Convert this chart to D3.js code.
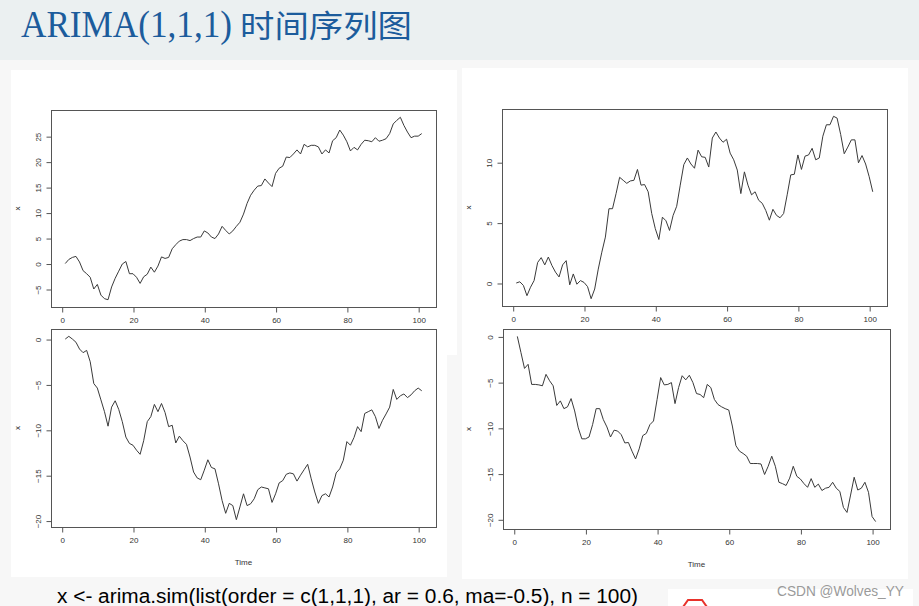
<!DOCTYPE html>
<html>
<head>
<meta charset="utf-8">
<script src="https://cdn.jsdelivr.net/npm/d3@7/dist/d3.min.js"></script>
<style>
  html, body { margin: 0; padding: 0; background: #f7f7f7; }
  svg { display: block; }
  .tick-label, .axis-title { font-family: "Liberation Sans", Arial, sans-serif; fill: #333; }
</style>
</head>
<body>
<svg id="slide" width="919" height="606"></svg>
<script>
// 四组 ARIMA(1,1,1) 模拟序列, t = 1..101
const seriesA = [0, 0.8, 1.2, 1.4, 0.3, -1.4, -2.0, -2.7, -5.0, -4.1,
  -6.2, -6.9, -7.1, -4.6, -2.9, -1.5, -0.1, 0.4, -2.0, -2.0,
  -2.7, -3.9, -2.6, -2.1, -0.7, -1.7, -0.5, 1.3, 1.0, 1.2,
  2.9, 3.7, 4.4, 4.7, 4.7, 4.5, 4.9, 5.2, 5.2, 6.4,
  6.0, 5.2, 4.9, 5.8, 7.3, 6.5, 5.8, 6.4, 7.3, 8.1,
  9.7, 11.8, 13.4, 14.4, 15.2, 15.3, 16.6, 15.8, 15.1, 17.7,
  18.7, 19.1, 20.9, 20.8, 21.5, 22.3, 21.5, 23.4, 22.9, 23.2,
  23.2, 22.9, 21.5, 22.3, 21.7, 24.1, 24.7, 26.2, 25.2, 23.9,
  22.1, 22.8, 22.3, 23.4, 24.2, 24.1, 23.9, 24.7, 24.0, 24.2,
  24.5, 25.5, 27.4, 28.1, 28.7, 27.1, 25.8, 24.7, 25.0, 25.0,
  25.5];

const seriesB = [0, 0.1, -0.2, -1.05, -0.35, 0.2, 1.7, 2.1, 1.5, 2.15,
  1.45, 0.9, 0.5, 1.5, 1.85, -0.15, 0.75, -0.1, 0.2, 0.05,
  -0.3, -1.3, -0.5, 1.15, 2.55, 3.8, 6.15, 6.15, 7.4, 8.75,
  8.5, 8.25, 8.45, 8.5, 9.4, 8.1, 8.15, 7.55, 5.75, 4.5,
  3.6, 5.45, 5.15, 4.35, 5.6, 6.35, 8.1, 9.8, 10.35, 9.85,
  9.5, 11.0, 10.45, 10.4, 9.6, 12.0, 12.5, 12.0, 11.65, 11.9,
  10.75, 10.2, 9.35, 7.4, 9.2, 8.1, 7.3, 7.55, 6.85, 6.6,
  6.0, 5.2, 6.1, 5.6, 5.4, 5.75, 7.3, 8.95, 9.0, 10.6,
  9.4, 10.5, 10.6, 11.15, 10.2, 10.35, 12.15, 13.1, 13.1, 13.8,
  13.65, 12.3, 10.7, 11.25, 11.85, 11.85, 9.95, 10.55, 9.85, 8.8,
  7.55];

const seriesC = [0, 0.3, 0, -0.35, -1.1, -1.5, -1.25, -2.5, -4.9, -5.4,
  -6.7, -8.0, -9.6, -7.5, -6.8, -7.75, -9.1, -10.8, -11.5, -11.7,
  -12.25, -12.7, -11.2, -9.1, -8.55, -7.2, -8.0, -7.1, -8.1, -9.65,
  -9.5, -11.45, -10.7, -11.2, -11.6, -13.0, -14.65, -15.3, -15.5, -14.45,
  -13.3, -14.15, -14.3, -15.95, -17.8, -19.2, -18.1, -18.35, -19.9, -18.5,
  -17.05, -18.35, -18.15, -17.6, -16.6, -16.3, -16.4, -16.5, -18.0, -17.05,
  -15.85, -15.6, -14.9, -14.75, -14.85, -15.65, -15.0, -14.4, -13.8, -15.4,
  -16.85, -18.1, -17.25, -17.05, -17.4, -16.3, -14.75, -14.3, -13.35, -11.3,
  -11.7, -10.85, -9.65, -10.2, -8.2, -8.0, -7.8, -8.55, -9.85, -8.95,
  -8.25, -7.5, -5.55, -6.65, -6.25, -6.05, -6.45, -6.15, -5.7, -5.4,
  -5.7];

const seriesD = [0, -1.75, -3.5, -3.05, -5.25, -5.25, -5.3, -5.4, -4.15, -4.85,
  -5.4, -7.55, -7.05, -7.9, -7.7, -6.8, -8.15, -10.0, -11.2, -11.2,
  -11.0, -9.65, -7.9, -7.9, -9.1, -9.9, -11.0, -10.25, -10.35, -10.75,
  -11.65, -11.6, -12.55, -13.4, -12.3, -10.85, -10.6, -9.65, -9.25, -6.9,
  -4.5, -5.3, -5.25, -5.05, -7.35, -5.6, -4.3, -4.75, -4.25, -5.05,
  -6.25, -6.35, -6.7, -5.25, -5.6, -6.9, -7.45, -7.7, -7.9, -8.05,
  -9.8, -11.95, -12.55, -12.8, -13.1, -13.9, -13.9, -13.9, -13.95, -15.1,
  -14.2, -13.1, -14.2, -15.95, -16.1, -16.3, -15.5, -14.2, -15.3, -15.6,
  -16.1, -16.5, -15.55, -16.5, -16.15, -16.85, -16.6, -16.5, -15.95, -16.6,
  -16.95, -18.7, -19.25, -17.35, -15.4, -16.8, -16.6, -15.95, -17.05, -19.7,
  -20.25];

const xTicks = [0, 20, 40, 60, 80, 100];
const yTicksA = [-5, 0, 5, 10, 15, 20, 25];
const yTicksB = [0, 5, 10];
const yTicksC = [0, -5, -10, -15, -20];
const yTicksD = [0, -5, -10, -15, -20];

const titleLatin = "ARIMA(1,1,1)";
const titleCjk = "时间序列图";
const codeLine = "x <- arima.sim(list(order = c(1,1,1), ar = 0.6, ma=-0.5), n = 100)";
const watermark = "CSDN @Wolves_YY";

const svg = d3.select("#slide");

// 標題區
svg.append("rect").attr("x", 0).attr("y", 0).attr("width", 919).attr("height", 60).attr("fill", "#ebf0f1");
svg.append("text")
    .attr("x", 21).attr("y", 36.5)
    .attr("textLength", 211).attr("lengthAdjust", "spacingAndGlyphs")
    .style("font-family", "'Liberation Serif', 'Times New Roman', serif")
    .style("font-size", "38px")
    .style("fill", "#1c5c9c")
    .text(titleLatin);
svg.append("text")
    .attr("x", 240).attr("y", 37)
    .attr("textLength", 172).attr("lengthAdjust", "spacingAndGlyphs")
    .style("font-family", "'Noto Sans CJK SC', sans-serif")
    .style("font-size", "31px")
    .style("fill", "#1c5c9c")
    .text(titleCjk);

// 截圖的白底
const sheets = [[11, 70, 446, 285], [11, 327, 436, 250], [462, 68, 446, 511]];
svg.selectAll(".sheet")
    .data(sheets)
    .enter()
    .append("rect")
    .attr("class", "sheet")
    .attr("x", d => d[0]).attr("y", d => d[1])
    .attr("width", d => d[2]).attr("height", d => d[3])
    .attr("fill", "#fff");

const panels = [
  { data: seriesA, yTicks: yTicksA, box: [51, 436, 110, 307], ylabX: 20, time: false },
  { data: seriesB, yTicks: yTicksB, box: [502, 887, 109, 306], ylabX: 471, time: false },
  { data: seriesC, yTicks: yTicksC, box: [51, 436, 329, 527], ylabX: 20, time: true },
  { data: seriesD, yTicks: yTicksD, box: [503, 890, 329, 529], ylabX: 471, time: true }
];

// R 的 plot(): 座標軸兩端各留 4%
const padded = ext => {
  const pad = (ext[1] - ext[0]) * 0.04;
  return [ext[0] - pad, ext[1] + pad];
};

const drawPanel = p => {
  const [x0, x1, y0, y1] = p.box;
  const pts = p.data.map((v, i) => ({ t: i + 1, v }));
  const xScale = d3.scaleLinear().domain(padded([1, pts.length])).range([x0, x1]);
  const yScale = d3.scaleLinear().domain(padded(d3.extent(p.data))).range([y1, y0]);
  const g = svg.append("g");

  g.append("path")
    .datum(pts)
    .attr("fill", "none")
    .attr("stroke", "#3a3a3a")
    .attr("stroke-width", 1)
    .attr("d", d3.line().x(d => xScale(d.t)).y(d => yScale(d.v)));

  g.append("rect")
    .attr("x", x0 + 0.5).attr("y", y0 + 0.5)
    .attr("width", x1 - x0).attr("height", y1 - y0)
    .attr("fill", "none").attr("stroke", "#555");

  const xAxis = g.append("g")
    .attr("transform", `translate(0.5,${y1 + 0.5})`)
    .call(d3.axisBottom(xScale).tickValues(xTicks).tickSize(5).tickPadding(4));
  const yAxis = g.append("g")
    .attr("transform", `translate(${x0 + 0.5},0.5)`)
    .call(d3.axisLeft(yScale).tickValues(p.yTicks).tickSize(5).tickPadding(4));

  [xAxis, yAxis].forEach(ax => {
    ax.select(".domain").remove();
    ax.selectAll("line").attr("stroke", "#555");
    ax.selectAll("text")
      .attr("class", "tick-label")
      .style("font-family", "'Liberation Sans', Arial, sans-serif")
      .style("font-size", "8px")
      .attr("fill", "#333");
  });
  xAxis.selectAll("text").attr("dy", "0.71em").attr("y", 10);
  // y 軸刻度字轉 90 度
  yAxis.selectAll("text")
    .attr("x", null).attr("dy", null)
    .attr("text-anchor", "middle")
    .attr("transform", `translate(-11,0) rotate(-90)`);

  g.append("text")
    .attr("class", "axis-title")
    .attr("transform", `translate(${p.ylabX},${(y0 + y1) / 2}) rotate(-90)`)
    .attr("text-anchor", "middle")
    .style("font-size", "8px")
    .text("x");

  if (p.time) {
    g.append("text")
      .attr("class", "axis-title")
      .attr("x", (x0 + x1) / 2).attr("y", y1 + 38)
      .attr("text-anchor", "middle")
      .style("font-size", "8px")
      .text("Time");
  }
};

panels.forEach(drawPanel);

// 底部程式碼與浮水印
svg.append("text")
    .attr("x", 57).attr("y", 603)
    .attr("textLength", 581).attr("lengthAdjust", "spacingAndGlyphs")
    .style("font-family", "'Liberation Sans', Arial, sans-serif")
    .style("font-size", "20px")
    .style("fill", "#000")
    .text(codeLine);

svg.append("rect").attr("x", 668).attr("y", 589).attr("width", 245).attr("height", 17).attr("fill", "#fff");
svg.append("path")
    .attr("d", "M683,607 L688,600 L702,600 L707,607")
    .attr("fill", "none").attr("stroke", "#e8322b").attr("stroke-width", 2);
svg.append("text")
    .attr("x", 777).attr("y", 596)
    .attr("textLength", 127).attr("lengthAdjust", "spacingAndGlyphs")
    .style("font-family", "'Liberation Sans', Arial, sans-serif")
    .style("font-size", "14px")
    .style("fill", "#9a9a9a")
    .text(watermark);
</script>
</body>
</html>
